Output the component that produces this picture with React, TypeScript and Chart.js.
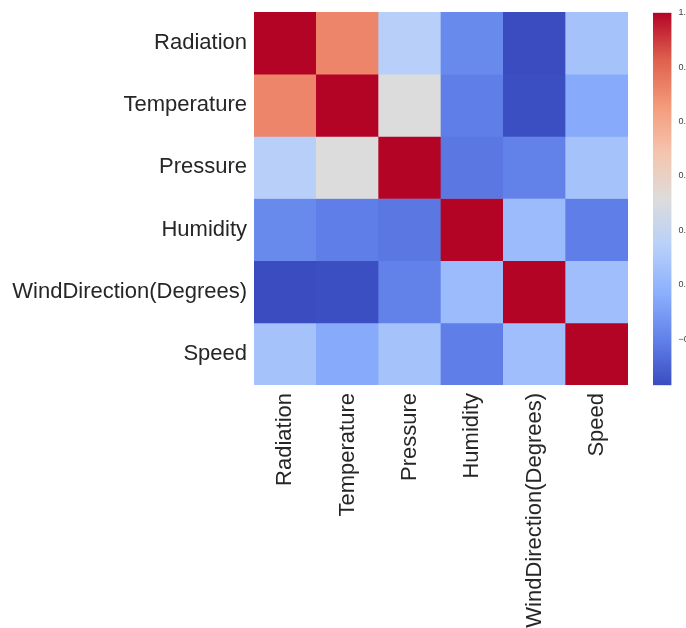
import React, { useEffect, useRef } from "react";
import { Chart, registerables } from "chart.js";

Chart.register(...registerables);

const variables = ["Radiation", "Temperature", "Pressure", "Humidity", "WindDirection(Degrees)", "Speed"];

const rowRadiation = [1.0, 0.72, 0.14, -0.17, -0.37, 0.07];
const rowTemperature = [0.72, 1.0, 0.31, -0.21, -0.36, -0.05];
const rowPressure = [0.14, 0.31, 1.0, -0.23, -0.2, 0.07];
const rowHumidity = [-0.17, -0.21, -0.23, 1.0, 0.03, -0.21];
const rowWindDirection = [-0.37, -0.36, -0.2, 0.03, 1.0, 0.05];
const rowSpeed = [0.07, -0.05, 0.07, -0.21, 0.05, 1.0];

const matrix = [rowRadiation, rowTemperature, rowPressure, rowHumidity, rowWindDirection, rowSpeed];

const colorbarTicks = [-0.2, 0.0, 0.2, 0.4, 0.6, 0.8, 1.0];
const VMIN = -0.37;
const VMAX = 1.0;

const COOLWARM: [number, number, number][] = [
  [58, 76, 192],
  [98, 130, 234],
  [141, 176, 254],
  [184, 208, 249],
  [221, 220, 219],
  [245, 196, 173],
  [244, 154, 123],
  [222, 96, 77],
  [180, 4, 38],
];

function coolwarm(t: number): string {
  const c = Math.max(0, Math.min(1, t)) * (COOLWARM.length - 1);
  const i = Math.min(COOLWARM.length - 2, Math.floor(c));
  const f = c - i;
  const a = COOLWARM[i];
  const b = COOLWARM[i + 1];
  const r = Math.round(a[0] + (b[0] - a[0]) * f);
  const g = Math.round(a[1] + (b[1] - a[1]) * f);
  const bl = Math.round(a[2] + (b[2] - a[2]) * f);
  return `rgb(${r},${g},${bl})`;
}

const norm = (v: number) => (v - VMIN) / (VMAX - VMIN);

const FONT = "'Liberation Sans', Arial, sans-serif";
const TEXT = "#262626";

export default function App() {
  const heatRef = useRef<HTMLCanvasElement>(null);
  const barRef = useRef<HTMLCanvasElement>(null);

  useEffect(() => {
    const heat = new Chart(heatRef.current!, {
      type: "bar",
      data: {
        labels: variables,
        datasets: matrix.map((row, r) => ({
          label: variables[r],
          data: row.map(() => [r, r + 1] as [number, number]),
          backgroundColor: row.map((v) => coolwarm(norm(v))),
          borderWidth: 0,
          borderSkipped: false,
          grouped: false,
          categoryPercentage: 1,
          barPercentage: 1,
        })),
      },
      options: {
        animation: false,
        responsive: false,
        layout: { padding: { top: 12, right: 58, left: 0, bottom: 0 } },
        plugins: { legend: { display: false }, tooltip: { enabled: false } },
        scales: {
          x: {
            type: "category",
            grid: { display: false, drawTicks: false },
            border: { display: false },
            ticks: {
              minRotation: 90,
              maxRotation: 90,
              padding: 8,
              color: TEXT,
              font: { family: FONT, size: 22 },
            },
            afterFit: (s: any) => {
              s.height = 243;
              s.paddingLeft = 0;
              s.paddingRight = 0;
            },
          },
          y: {
            type: "linear",
            min: 0,
            max: variables.length,
            reverse: true,
            grid: { display: false, drawTicks: false },
            border: { display: false },
            afterBuildTicks: (s: any) => {
              s.ticks = variables.map((_, i) => ({ value: i + 0.5 }));
            },
            ticks: {
              padding: 7,
              color: TEXT,
              font: { family: FONT, size: 22 },
              callback: (v: any) => variables[Math.floor(Number(v))],
            },
            afterFit: (s: any) => {
              s.width = 254;
              s.paddingTop = 0;
              s.paddingBottom = 0;
            },
          },
        },
      },
    });

    const bar = new Chart(barRef.current!, {
      type: "bar",
      data: {
        labels: ["cb"],
        datasets: [
          {
            data: [[VMIN, VMAX] as [number, number]],
            backgroundColor: (ctx: any) => {
              const chart = ctx.chart;
              const ys = chart.scales.y;
              const area = chart.chartArea;
              if (!ys || !area) return coolwarm(0.5);
              const y0 = ys.getPixelForValue(VMIN);
              const y1 = ys.getPixelForValue(VMAX);
              if (!isFinite(y0) || !isFinite(y1) || y0 === y1) return coolwarm(0.5);
              const g = chart.ctx.createLinearGradient(0, y0, 0, y1);
              COOLWARM.forEach((_, i) => {
                const t = i / (COOLWARM.length - 1);
                g.addColorStop(t, coolwarm(t));
              });
              return g;
            },
            borderWidth: 0,
            borderSkipped: false,
            categoryPercentage: 1,
            barPercentage: 1,
          },
        ],
      },
      options: {
        animation: false,
        responsive: false,
        layout: { padding: { top: 12.7, bottom: 242.7, left: 8, right: 0 } },
        plugins: { legend: { display: false }, tooltip: { enabled: false } },
        scales: {
          x: { display: false },
          y: {
            position: "right",
            min: VMIN,
            max: VMAX,
            grid: { display: false, drawTicks: false },
            border: { display: false },
            afterBuildTicks: (s: any) => {
              s.ticks = colorbarTicks.map((v) => ({ value: v }));
            },
            ticks: {
              padding: 7,
              color: "#3c3c3c",
              font: { family: FONT, size: 9 },
              callback: (v: any) => Number(v).toFixed(1).replace("-", "\u2212"),
            },
            afterFit: (s: any) => {
              s.width = 14.5;
              s.paddingTop = 0;
              s.paddingBottom = 0;
            },
          },
        },
      },
    });

    return () => {
      heat.destroy();
      bar.destroy();
    };
  }, []);

  return (
    <div style={{ position: "fixed", left: 0, top: 0, width: 686, height: 628, background: "#fff", overflow: "hidden" }}>
      <canvas ref={heatRef} width={686} height={628} style={{ position: "absolute", left: 0, top: 0, width: 686, height: 628 }} />
      <canvas ref={barRef} width={41} height={628} style={{ position: "absolute", left: 645, top: 0, width: 41, height: 628 }} />
    </div>
  );
}
